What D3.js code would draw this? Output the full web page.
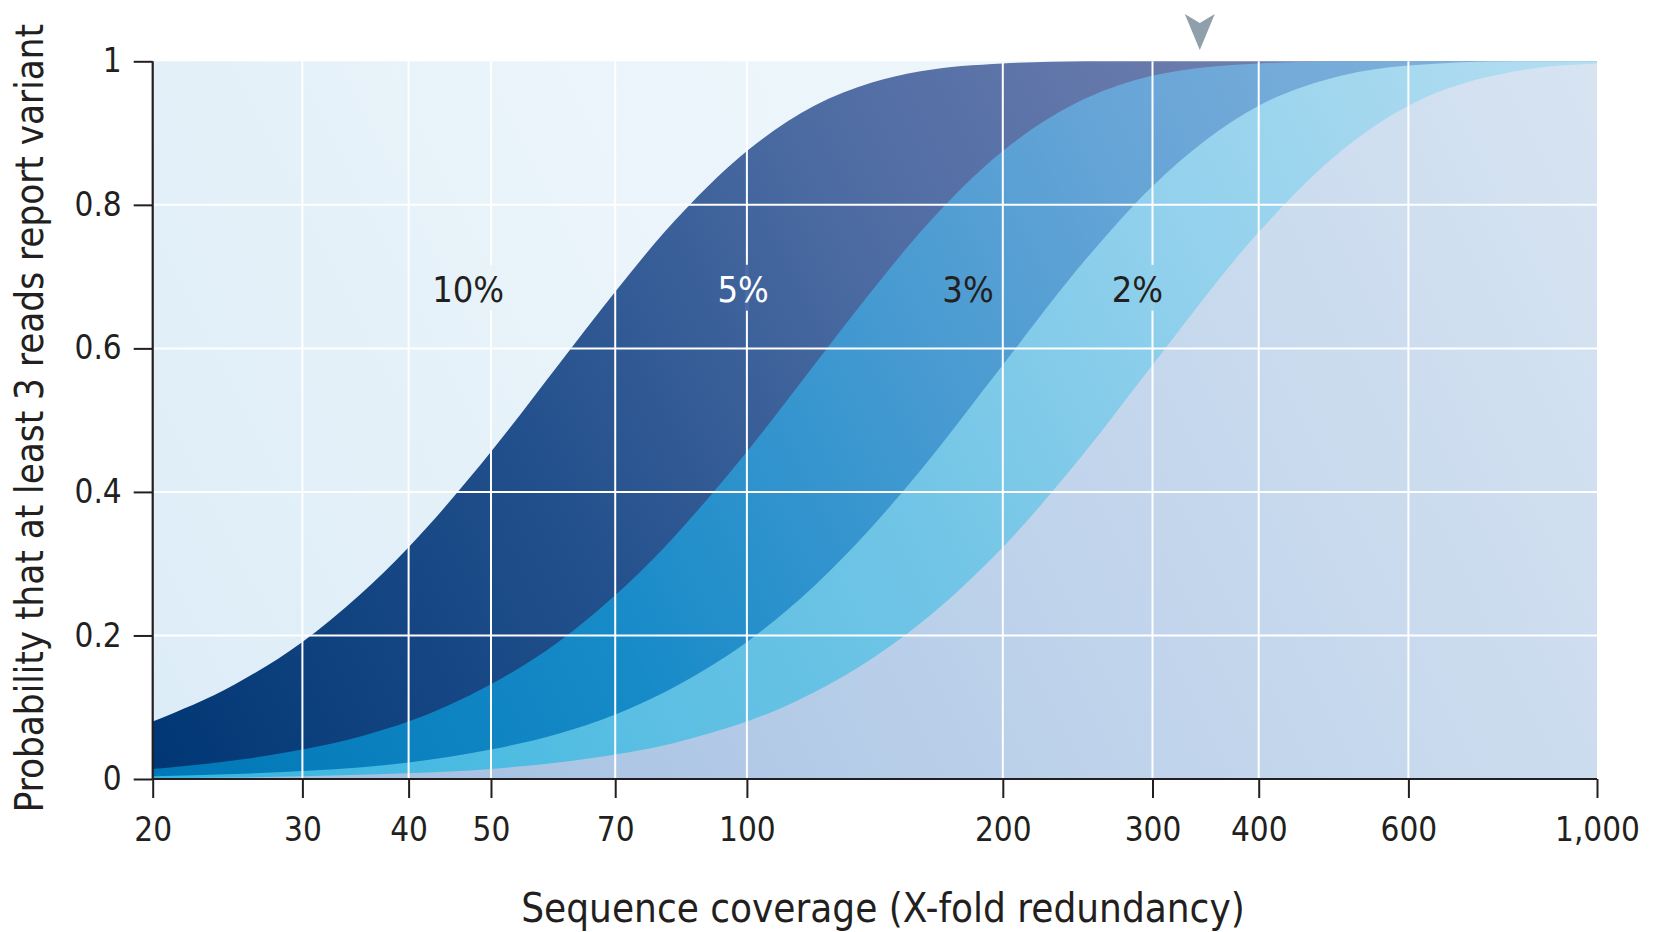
<!DOCTYPE html>
<html>
<head>
<meta charset="utf-8">
<script src="https://cdn.jsdelivr.net/npm/d3@7"></script>
<style>
  body{margin:0;background:#fff;}
  .chart text{font-family:"Liberation Sans Narrow","DejaVu Sans Condensed","Roboto",sans-serif;fill:#231f20;}
</style>
</head>
<body>
<div class="chart"></div>
<script>
// coverage (x) and probability for each allele fraction
var coverage=[20,25,30,35,40,50,60,70,80,90,100,120,140,160,200,250,300,400,500,600,800,1000];
var p10=[0.080,0.132,0.191,0.256,0.323,0.456,0.577,0.679,0.762,0.826,0.875,0.938,0.970,0.986,0.997,1,1,1,1,1,1,1];
var p5 =[0.014,0.026,0.041,0.059,0.080,0.132,0.191,0.256,0.323,0.391,0.456,0.577,0.679,0.762,0.875,0.948,0.980,0.997,1,1,1,1];
var p3 =[0.004,0.007,0.011,0.016,0.023,0.041,0.063,0.090,0.121,0.155,0.191,0.269,0.350,0.430,0.577,0.723,0.826,0.938,0.980,0.994,1,1];
var p2 =[0.001,0.002,0.004,0.006,0.008,0.014,0.023,0.034,0.047,0.063,0.080,0.121,0.167,0.217,0.323,0.456,0.577,0.762,0.875,0.938,0.986,0.997];

var labels=["10%","5%","3%","2%"];
var labelX=[47,99,182,288];
var labelY=0.665;
var xTicks=[20,30,40,50,70,100,200,300,400,600,1000];
var xGrid=[30,40,50,70,100,200,300,400,600];
var yTicks=[0,0.2,0.4,0.6,0.8,1];
var arrowAt=341;

var W=1653, H=932;
var mLeft=152.7, mTop=61.3, w=1444.3, h=717.7;

var svg=d3.select(".chart").append("svg")
  .attr("width",W)
  .attr("height",H);

var x=d3.scaleLog().domain([20,1000]).range([0,w]);
var y=d3.scaleLinear().domain([0,1]).range([h,0]);

var defs=svg.append("defs");
function grad(id,stops){
  var g=defs.append("linearGradient").attr("id",id)
    .attr("gradientUnits","userSpaceOnUse")
    .attr("x1",0).attr("y1",h).attr("x2",w).attr("y2",0);
  stops.forEach(function(s){
    g.append("stop").attr("offset",s[0]).attr("stop-color",s[1]);
  });
}
grad("gBg",[[0,"#dcecf7"],[0.4,"#eaf4fa"],[1,"#f3f9fd"]]);
grad("g10",[[0,"#003674"],[0.3,"#22508c"],[0.55,"#4e6ca3"],[0.85,"#7480b0"],[1,"#7c84b3"]]);
grad("g5",[[0,"#0077b6"],[0.3,"#178bc8"],[0.5,"#3f98d0"],[0.7,"#65a4d6"],[1,"#88b4dd"]]);
grad("g3",[[0,"#33b5e0"],[0.3,"#5cbfe3"],[0.5,"#72c5e6"],[0.7,"#90d0ec"],[1,"#b4def1"]]);
grad("g2",[[0,"#9dbbe0"],[0.5,"#bcd1ea"],[1,"#d7e4f2"]]);

var g=svg.append("g").attr("transform","translate("+mLeft+","+mTop+")");

g.append("rect").attr("width",w).attr("height",h).attr("fill","url(#gBg)");

var series=[p10,p5,p3,p2];
var fills=["url(#g10)","url(#g5)","url(#g3)","url(#g2)"];

var area=d3.area()
  .x(function(d){return x(d[0]);})
  .y0(h)
  .y1(function(d){return y(d[1]);})
  .curve(d3.curveMonotoneX);

series.forEach(function(s,i){
  g.append("path")
    .attr("d",area(d3.zip(coverage,s)))
    .attr("fill",fills[i]);
});

// white grid
g.selectAll(".hgrid").data(yTicks.slice(1,5)).enter().append("line")
  .attr("x1",0).attr("x2",w)
  .attr("y1",function(d){return y(d);}).attr("y2",function(d){return y(d);})
  .attr("stroke","#fff").attr("stroke-width",2);
g.selectAll(".vgrid").data(xGrid).enter().append("line")
  .attr("x1",function(d){return x(d);}).attr("x2",function(d){return x(d);})
  .attr("y1",0).attr("y2",h)
  .attr("stroke","#fff").attr("stroke-width",2);

// gaps in the grid behind the labels
var gapColor=["#e9f3fa","#4e6ba3",null,"#95d2ec"];
labels.forEach(function(t,i){
  var cx=x(labelX[i]);
  xGrid.forEach(function(gx){
    var px=x(gx);
    if(gapColor[i] && Math.abs(px-cx)<42){
      g.append("rect").attr("x",px-2).attr("width",4)
        .attr("y",y(labelY)-37).attr("height",46)
        .attr("fill",gapColor[i]);
    }
  });
});

labels.forEach(function(t,i){
  g.append("text")
    .attr("x",x(labelX[i]))
    .attr("y",y(labelY))
    .attr("text-anchor","middle")
    .attr("font-size",36)
    .style("fill",i==1?"#fff":"#231f20")
    .text(t);
});

// axes
var xAxis=g.append("g").attr("transform","translate(0,"+h+")")
  .call(d3.axisBottom(x).tickValues(xTicks).tickSize(19).tickPadding(20)
    .tickFormat(d3.format(",")));
var yAxis=g.append("g")
  .call(d3.axisLeft(y).tickValues(yTicks).tickSize(19).tickPadding(12)
    .tickFormat(function(d){return d===0||d===1?d:d3.format(".1f")(d);}));
[xAxis,yAxis].forEach(function(a){
  a.select(".domain").attr("stroke","#231f20").attr("stroke-width",2.2);
  a.selectAll(".tick line").attr("stroke","#231f20").attr("stroke-width",2);
  a.selectAll(".tick text").attr("font-size",33).attr("font-family",null);
});
xAxis.select(".domain").attr("d","M0,0H"+w);
yAxis.select(".domain").attr("d","M0,0V"+h);

// arrow marker
var ax=mLeft+x(arrowAt);
svg.append("path")
  .attr("d","M"+(ax-15)+",14 L"+ax+",23 L"+(ax+15)+",14 L"+ax+",50 Z")
  .attr("fill","#8fa0aa");

// axis titles
svg.append("text")
  .attr("x",883)
  .attr("y",922)
  .attr("text-anchor","middle")
  .attr("font-size",40)
  .text("Sequence coverage (X-fold redundancy)");
svg.append("text")
  .attr("transform","translate(43,"+(mTop+h/2-2)+") rotate(-90)")
  .attr("text-anchor","middle")
  .attr("font-size",38.2)
  .text("Probability that at least 3 reads report variant");
</script>
</body>
</html>
